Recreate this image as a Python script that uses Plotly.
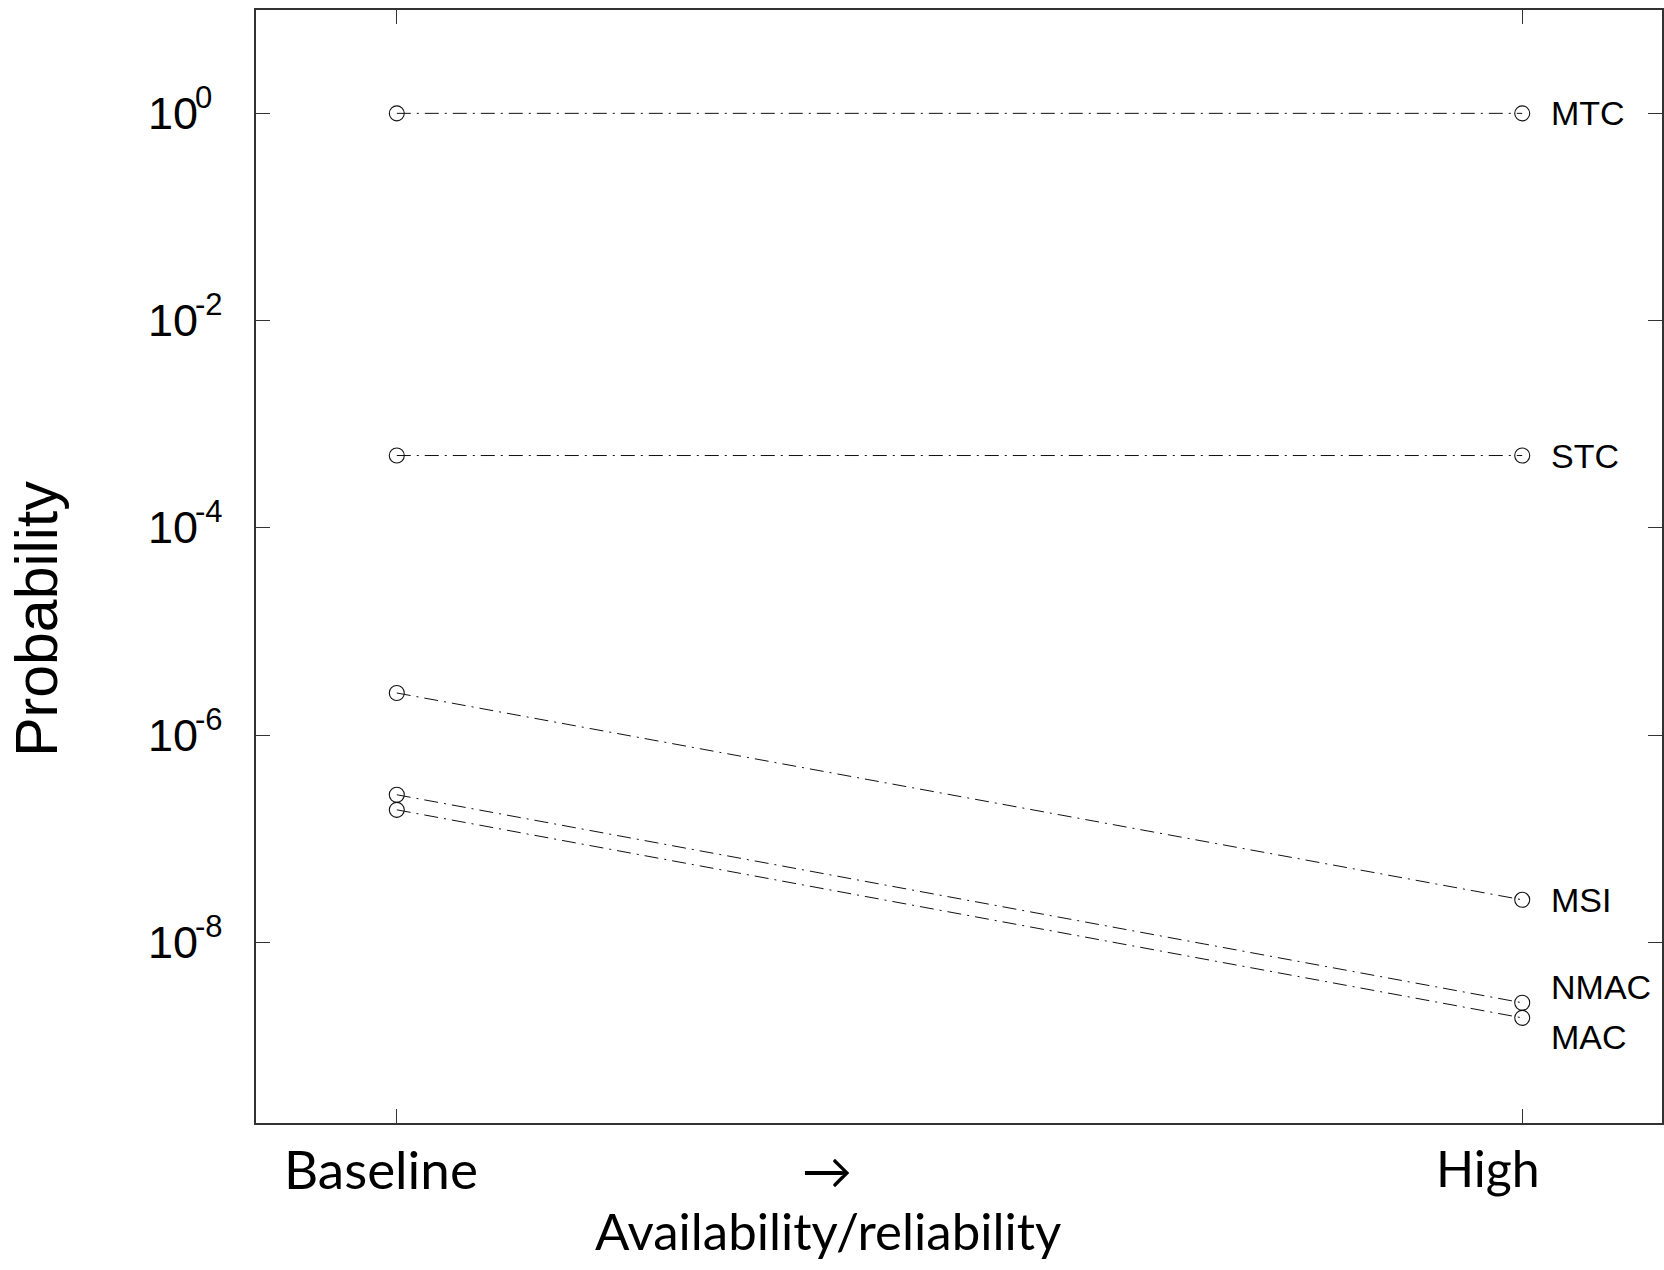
import plotly.graph_objects as go
import numpy as np

# ---- data ----
x_positions = [0, 1]
x_labels = ["Baseline", "High"]
x_title = "Availability/reliability"
arrow_label = "→"
y_title = "Probability"

series_names = ["MTC", "STC", "MSI", "NMAC", "MAC"]
baseline_values = [1.0, 5.0e-4, 2.56e-6, 2.67e-7, 1.91e-7]
high_values = [1.0, 5.0e-4, 2.59e-8, 2.63e-9, 1.88e-9]

y_tick_values = [1e0, 1e-2, 1e-4, 1e-6, 1e-8]
y_tick_exponents = ["0", "-2", "-4", "-6", "-8"]

# ---- style ----
label_yshift = {"MTC": 0, "STC": 0, "MSI": 0, "NMAC": 16, "MAC": -19}
line_color = "#111111"
axis_color = "#333333"

fig = go.Figure()
for name, b, h in zip(series_names, baseline_values, high_values):
    fig.add_trace(go.Scatter(
        x=x_positions, y=[b, h], mode="lines+markers", name=name,
        line=dict(color=line_color, width=1, dash="14px,6px,2px,6px"),
        marker=dict(symbol="circle-open", size=15, color=line_color,
                    line=dict(width=1.1, color=line_color)),
        showlegend=False, hoverinfo="skip",
    ))

annotations = []
# series labels at the "High" end
for name, h in zip(series_names, high_values):
    annotations.append(dict(
        x=x_positions[1], y=np.log10(h), xref="x", yref="y", text=name,
        showarrow=False, xanchor="left", yanchor="middle",
        xshift=27, yshift=label_yshift[name],
        font=dict(family="Liberation Sans, Arial, sans-serif", size=34, color="#000"),
    ))

# y tick labels 10^n
for v, e in zip(y_tick_values, y_tick_exponents):
    annotations.append(dict(
        x=0, y=np.log10(v), xref="paper", yref="y", text="10",
        showarrow=False, xanchor="left", yanchor="middle", xshift=-110, yshift=0,
        font=dict(family="Liberation Sans, Arial, sans-serif", size=45, color="#000"),
    ))
    annotations.append(dict(
        x=0, y=np.log10(v), xref="paper", yref="y", text=e,
        showarrow=False, xanchor="left", yanchor="middle", xshift=-63, yshift=16,
        font=dict(family="Liberation Sans, Arial, sans-serif", size=31, color="#000"),
    ))

# x labels
label_specs = [(-16, 53), (-34, 50)]
for xp, lab, (xs, fs) in zip(x_positions, x_labels, label_specs):
    annotations.append(dict(
        x=xp, y=0, xref="x", yref="paper", text=lab, showarrow=False,
        xanchor="center", yanchor="middle", xshift=xs, yshift=-45,
        font=dict(family="Lato, sans-serif", size=fs, color="#000"),
    ))
annotations.append(dict(
    x=0.382, y=0, xref="x", yref="paper", text=arrow_label, showarrow=False,
    xanchor="center", yanchor="middle", yshift=-47,
    font=dict(family="Lato, DejaVu Sans, sans-serif", size=50, color="#000"),
))
annotations.append(dict(
    x=0.383, y=0, xref="x", yref="paper", text=x_title, showarrow=False,
    xanchor="center", yanchor="middle", yshift=-107,
    font=dict(family="Lato, sans-serif", size=51, color="#000"),
))
annotations.append(dict(
    x=0, y=0.453, xref="paper", yref="paper", text=y_title, showarrow=False,
    textangle=-90, xanchor="center", yanchor="middle", xshift=-219,
    font=dict(family="Liberation Sans, Arial, sans-serif", size=59, color="#000"),
))

fig.update_layout(
    width=1664, height=1270,
    margin=dict(l=256, r=0, t=10, b=147),
    paper_bgcolor="white", plot_bgcolor="white",
    annotations=annotations,
    xaxis=dict(
        range=[-0.1251, 1.1242], tickvals=x_positions, showticklabels=False,
        ticks="inside", ticklen=14, tickwidth=1.2, tickcolor=axis_color,
        showline=True, linecolor=axis_color, linewidth=1.5, mirror="ticks",
        showgrid=False, zeroline=False,
    ),
    yaxis=dict(
        type="log", range=[-9.74, 0.997], tickvals=y_tick_values, showticklabels=False,
        ticks="inside", ticklen=14, tickwidth=1.2, tickcolor=axis_color,
        showline=True, linecolor=axis_color, linewidth=1.5, mirror="ticks",
        showgrid=False, zeroline=False,
    ),
)

fig.write_html("out.html")
